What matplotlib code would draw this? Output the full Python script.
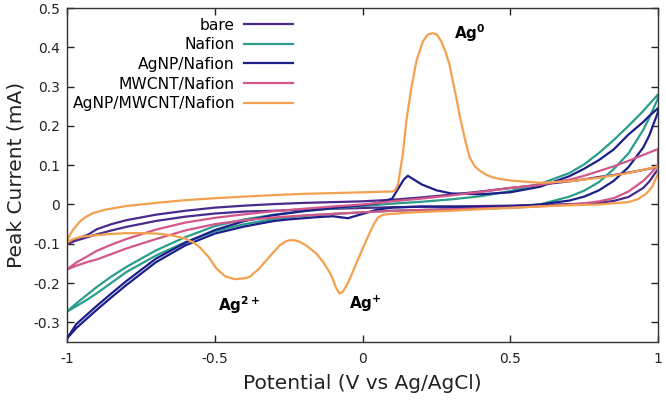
import matplotlib
matplotlib.use("Agg")
import matplotlib.pyplot as plt

# potential grid (V) shared by the plain electrodes
E = [-1.0, -0.97, -0.93, -0.9, -0.85, -0.8, -0.7, -0.6, -0.5, -0.4, -0.3, -0.2, -0.1, 0.0,
     0.1, 0.2, 0.3, 0.4, 0.5, 0.6, 0.7, 0.75, 0.8, 0.85, 0.9, 0.95, 0.97, 1.0]

# bare electrode, anodic (fwd) and cathodic (rev) branches, mA
bare_fwd = [-0.1, -0.088, -0.077, -0.063, -0.05, -0.04, -0.026, -0.016, -0.008, -0.003, 0.001, 0.004, 0.006, 0.008,
            0.012, 0.018, 0.025, 0.033, 0.042, 0.05, 0.059, 0.064, 0.07, 0.075, 0.081, 0.088, 0.091, 0.096]
bare_rev = [-0.1, -0.092, -0.083, -0.076, -0.066, -0.057, -0.042, -0.031, -0.023, -0.018, -0.016, -0.013, -0.011, -0.009,
            -0.007, -0.006, -0.005, -0.004, -0.003, -0.001, 0.001, 0.002, 0.004, 0.009, 0.019, 0.042, 0.058, 0.09]

nafion_fwd = [-0.272, -0.252, -0.228, -0.21, -0.183, -0.159, -0.117, -0.083, -0.055, -0.038, -0.026, -0.017, -0.01, -0.004,
              0.002, 0.007, 0.013, 0.021, 0.034, 0.052, 0.08, 0.102, 0.131, 0.164, 0.2, 0.238, 0.255, 0.28]
nafion_rev = [-0.272, -0.259, -0.241, -0.226, -0.199, -0.172, -0.13, -0.096, -0.068, -0.05, -0.037, -0.029, -0.024, -0.02,
              -0.016, -0.014, -0.012, -0.011, -0.008, 0.0, 0.02, 0.035, 0.057, 0.09, 0.13, 0.19, 0.22, 0.27]

mwcnt_fwd = [-0.165, -0.148, -0.131, -0.118, -0.102, -0.088, -0.064, -0.046, -0.034, -0.025, -0.017, -0.011, -0.005, 0.0,
             0.008, 0.015, 0.023, 0.032, 0.042, 0.05, 0.063, 0.073, 0.085, 0.097, 0.111, 0.126, 0.132, 0.141]
mwcnt_rev = [-0.165, -0.156, -0.146, -0.14, -0.126, -0.112, -0.088, -0.066, -0.05, -0.04, -0.033, -0.028, -0.024, -0.02,
             -0.016, -0.014, -0.012, -0.01, -0.008, -0.005, 0.0, 0.003, 0.008, 0.016, 0.033, 0.06, 0.075, 0.1]

# AgNP/Nafion has its own grid because of the small stripping peak
agnp_fwd_x = [-1.0, -0.97, -0.93, -0.9, -0.85, -0.8, -0.7, -0.6, -0.5, -0.4, -0.3, -0.2, -0.1, 0.0, 0.05, 0.1,
              0.12, 0.14, 0.153, 0.17, 0.2, 0.25, 0.3, 0.4, 0.5, 0.6, 0.7, 0.75, 0.8, 0.85, 0.9, 0.95, 0.97, 1.0]
agnp_fwd_y = [-0.34, -0.305, -0.278, -0.258, -0.226, -0.195, -0.138, -0.097, -0.065, -0.042, -0.027, -0.017, -0.009,
              -0.002, 0.003, 0.015, 0.04, 0.064, 0.073, 0.065, 0.051, 0.036, 0.028, 0.026, 0.031, 0.045, 0.072, 0.091,
              0.113, 0.14, 0.178, 0.21, 0.225, 0.245]
agnp_rev_x = [-1.0, -0.97, -0.93, -0.9, -0.85, -0.8, -0.7, -0.6, -0.5, -0.4, -0.3, -0.25, -0.2, -0.15, -0.1, -0.05,
              0.0, 0.05, 0.1, 0.2, 0.3, 0.4, 0.5, 0.6, 0.7, 0.75, 0.8, 0.85, 0.9, 0.95, 0.97, 1.0]
agnp_rev_y = [-0.34, -0.315, -0.288, -0.268, -0.236, -0.205, -0.147, -0.104, -0.074, -0.056, -0.042, -0.038, -0.035,
              -0.032, -0.03, -0.035, -0.024, -0.013, -0.008, -0.005, -0.006, -0.007, -0.005, 0.0, 0.01, 0.02, 0.036,
              0.06, 0.095, 0.145, 0.175, 0.235]

# AgNP/MWCNT/Nafion with the Ag0 stripping peak and the two reduction peaks
combo_fwd_x = [-1.0, -0.995, -0.99, -0.98, -0.97, -0.958, -0.94, -0.913, -0.87, -0.8, -0.7, -0.6, -0.5, -0.4, -0.3,
               -0.2, -0.1, 0.0, 0.05, 0.1, 0.11, 0.12, 0.128, 0.136, 0.148, 0.165, 0.182, 0.204, 0.22, 0.238, 0.252,
               0.266, 0.28, 0.294, 0.305, 0.317, 0.328, 0.34, 0.35, 0.362, 0.38, 0.396, 0.42, 0.441, 0.464, 0.5,
               0.6, 0.7, 0.8, 0.9, 0.95, 1.0]
combo_fwd_y = [-0.097, -0.085, -0.076, -0.064, -0.055, -0.044, -0.033, -0.022, -0.013, -0.004, 0.004, 0.011, 0.016,
               0.02, 0.024, 0.027, 0.029, 0.031, 0.032, 0.033, 0.036, 0.052, 0.09, 0.128, 0.213, 0.297, 0.365, 0.415,
               0.432, 0.436, 0.432, 0.415, 0.39, 0.356, 0.315, 0.272, 0.228, 0.187, 0.155, 0.12, 0.097, 0.086, 0.075,
               0.069, 0.065, 0.061, 0.055, 0.059, 0.068, 0.08, 0.088, 0.097]
combo_rev_x = [-1.0, -0.98, -0.95, -0.9, -0.85, -0.8, -0.75, -0.7, -0.65, -0.6, -0.57, -0.55, -0.52, -0.495, -0.465,
               -0.433, -0.4, -0.382, -0.35, -0.326, -0.3, -0.281, -0.26, -0.247, -0.23, -0.213, -0.19, -0.157, -0.135,
               -0.123, -0.11, -0.1, -0.09, -0.078, -0.067, -0.055, -0.044, -0.027, -0.01, 0.007, 0.024, 0.038, 0.052,
               0.07, 0.1, 0.15, 0.2, 0.3, 0.4, 0.5, 0.6, 0.7, 0.8, 0.85, 0.9, 0.93, 0.96, 0.98, 1.0]
combo_rev_y = [-0.097, -0.088, -0.082, -0.078, -0.075, -0.073, -0.073, -0.074, -0.078, -0.087, -0.098, -0.11, -0.135,
               -0.163, -0.183, -0.19, -0.188, -0.184, -0.163, -0.142, -0.12, -0.104, -0.094, -0.091, -0.091, -0.095,
               -0.105, -0.125, -0.145, -0.159, -0.175, -0.192, -0.212, -0.227, -0.222, -0.207, -0.19, -0.16, -0.13,
               -0.1, -0.072, -0.05, -0.033, -0.026, -0.024, -0.021, -0.019, -0.016, -0.012, -0.009, -0.005, -0.002,
               0.0, 0.003, 0.006, 0.013, 0.027, 0.045, 0.078]

labels = ["bare", "Nafion", "AgNP/Nafion", "MWCNT/Nafion", "AgNP/MWCNT/Nafion"]
colors = ["#4a2a8c", "#2a9d8c", "#1c1f8a", "#d3588a", "#f5a04f"]

xticks = [-1, -0.5, 0, 0.5, 1]
xtick_labels = ["-1", "-0.5", "0", "0.5", "1"]
yticks = [-0.3, -0.2, -0.1, 0, 0.1, 0.2, 0.3, 0.4, 0.5]
ytick_labels = ["-0.3", "-0.2", "-0.1", "0", "0.1", "0.2", "0.3", "0.4", "0.5"]

loops = [
    (E + E[::-1], bare_fwd + bare_rev[::-1]),
    (E + E[::-1], nafion_fwd + nafion_rev[::-1]),
    (agnp_fwd_x + agnp_rev_x[::-1], agnp_fwd_y + agnp_rev_y[::-1]),
    (E + E[::-1], mwcnt_fwd + mwcnt_rev[::-1]),
    (combo_fwd_x + combo_rev_x[::-1], combo_fwd_y + combo_rev_y[::-1]),
]

fig = plt.figure(figsize=(6.66, 4.0), dpi=100)
ax = fig.add_axes([0.101, 0.145, 0.887, 0.835])

for (x, y), lab, c in zip(loops, labels, colors):
    ax.plot(x, y, color=c, lw=1.6, label=lab, solid_joinstyle="round")

ax.set_xlim(-1, 1)
ax.set_ylim(-0.35, 0.5)
ax.set_xticks(xticks)
ax.set_xticklabels(xtick_labels)
ax.set_yticks(yticks)
ax.set_yticklabels(ytick_labels)
ax.tick_params(direction="in", top=True, right=True, length=5, width=1,
               labelsize=10, colors="#222222")
ax.tick_params(axis="x", pad=7)
ax.tick_params(axis="y", pad=5)
for s in ax.spines.values():
    s.set_color("#333333")
    s.set_linewidth(1)

ax.set_xlabel("Potential (V vs Ag/AgCl)", fontsize=14.5, labelpad=6, color="#222222")
ax.set_ylabel("Peak Current (mA)", fontsize=14.5, labelpad=6, color="#222222")

# peak labels
ax.text(0.31, 0.435, r"$\mathbf{Ag^{0}}$", fontsize=11, ha="left", va="center")
ax.text(-0.49, -0.256, r"$\mathbf{Ag^{2+}}$", fontsize=11, ha="left", va="center")
ax.text(-0.047, -0.252, r"$\mathbf{Ag^{+}}$", fontsize=11, ha="left", va="center")

ax.legend(loc="upper right", bbox_to_anchor=(0.40, 1.004), frameon=False, markerfirst=False,
          fontsize=11.2, handlelength=3.1, labelspacing=0.3, borderpad=0.2, handletextpad=0.6)

fig.savefig("out.png", dpi=100)
